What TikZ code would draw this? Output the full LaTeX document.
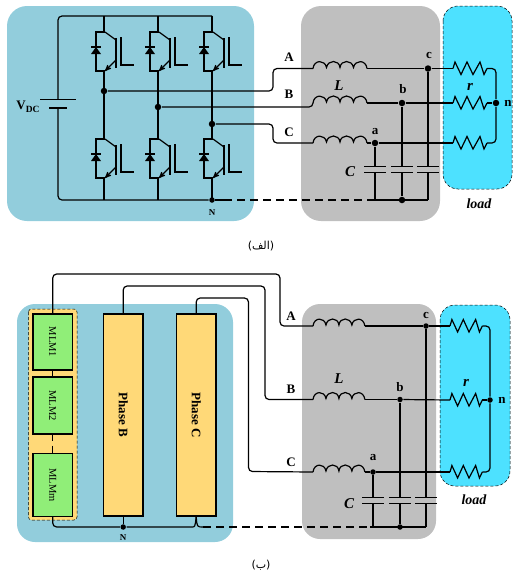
\documentclass[tikz,border=0pt]{standalone}
\usepackage{fontspec}
\setmainfont{Liberation Serif}
\newfontfamily\arabicfont[Script=Arabic]{DejaVu Sans}
\TeXXeTstate=1
\usepackage{xcolor}
\usetikzlibrary{arrows}
\usetikzlibrary{calc}
\definecolor{invblue}{HTML}{92CDDC}
\definecolor{filtgray}{HTML}{BFBFBF}
\definecolor{loadcyan}{HTML}{4DE1FF}
\definecolor{phaseyel}{HTML}{FFD978}
\definecolor{mlmgreen}{HTML}{90EE78}
\tikzset{
  igbt/.pic={
    \draw (1,0) -- (-8,0) -- (-8,39) -- (1,39);
    \draw (1,0) -- (12,8);
    \draw (12,6) -- (12,36);
    \draw (17,5) -- (17,33) -- (30,33);
    \draw[->] (12,28) -- (1,39);
    \draw (-13,15) -- (-3,15);
    \fill (-8,15) -- (-13,22) -- (-3,22) -- cycle;
  },
  coil/.pic={
    \draw (0,0) .. controls (1,-9) and (12,-9) .. (13.5,-1) .. controls (15,-9) and (26,-9) .. (27,-1)
       .. controls (28,-9) and (39,-9) .. (40.5,-1) .. controls (42,-9) and (53,-9) .. (54,0);
    \coordinate (-in) at (0,0);
    \coordinate (-out) at (54,0);
  },
  res/.pic={
    \draw (0,0) -- (2,-6.5) -- (8,6) -- (14,-6.5) -- (20,6) -- (27,-6.5) -- (31,6) -- (34,0);
    \coordinate (-in) at (0,0);
    \coordinate (-out) at (34,0);
  },
  capa/.pic={
    \draw (-11,-3) -- (11,-3);
    \draw (-11,3) -- (11,3);
    \coordinate (-in) at (0,-3);
    \coordinate (-out) at (0,3);
  }
}
\begin{document}
\begin{tikzpicture}[x=1pt,y=-1pt,line width=1.2pt,>=stealth',font=\bfseries\fontsize{13}{13}\selectfont]
  \tikzstyle{wire}=[rounded corners=4pt]
  \tikzstyle{dot}=[fill, circle, inner sep=0pt, minimum size=6.5pt]
  \tikzstyle{smalldot}=[fill, circle, inner sep=0pt, minimum size=5.5pt]
  \tikzstyle{dashwire}=[dash pattern=on 8pt off 5pt]
  \tikzstyle{lab}=[inner sep=0pt]
  \tikzstyle{phase}=[draw, fill=phaseyel, rotate=-90, minimum width=202pt, minimum height=39.5pt, inner sep=0pt]
  \tikzstyle{mlm}=[draw, fill=mlmgreen, rotate=-90, minimum height=39.5pt, inner sep=0pt, font=\normalfont\fontsize{10.5}{10.5}\selectfont]
  \useasboundingbox (0,0) rectangle (512,579);

  % upper panels
  \fill[invblue, rounded corners=20pt] (7,6) rectangle (254,221);
  \fill[filtgray, rounded corners=20pt] (301,6) rectangle (440,221);
  \draw[fill=loadcyan, densely dashed, line width=.5pt, rounded corners=15pt] (443,6) rectangle (512,189);

  % bridge
  \foreach \col/\xx in {a/104,b/158,c/212} {
    \pic at (\xx,32) {igbt};
    \pic at (\xx,139) {igbt};
    \coordinate (T\col) at (\xx,16);
    \coordinate (B\col) at (\xx,200);
    \draw (T\col) -- (\xx,32);
    \draw (\xx,71) -- (\xx,139);
    \draw (\xx,178) -- (B\col);
  }
  \node[dot] (Ja) at (104,91) {};
  \node[dot] (Jb) at (158,107) {};
  \node[dot] (Jc) at (212,124) {};
  \node[smalldot] (N1) at (212,200) {};
  \node[lab, font=\bfseries\fontsize{9}{9}\selectfont] (Nlab1) at (212,213) {N};

  % source
  \coordinate (Vp) at (58,99.5);
  \coordinate (Vm) at (58,108);
  \draw (40,99.5) -- (76,99.5);
  \draw (49,108) -- (67,108);
  \draw[wire] (Vp) |- (Tc);
  \draw[wire] (Vm) |- (N1);
  \node[lab] (Vdc) at (28,107) {V\raisebox{-3pt}{\fontsize{9.5}{9.5}\selectfont DC}};

  % filter and load
  \pic (LA) at (313,68.5) {coil};
  \pic (LB) at (313,103) {coil};
  \pic (LC) at (313,143) {coil};
  \pic (RA) at (453,68.5) {res};
  \pic (RB) at (453,103) {res};
  \pic (RC) at (453,143) {res};
  \pic (Ca) at (375,169.5) {capa};
  \pic (Cb) at (402,169.5) {capa};
  \pic (Cc) at (428,169.5) {capa};
  \node[dot] (Fa) at (375,143) {};
  \node[dot] (Fb) at (402,103) {};
  \node[dot] (Fc) at (428,68.5) {};
  \node[dot] (Fn) at (496,103) {};
  \node[dot] (Gn) at (402,200) {};
  \coordinate (Gl) at (372,200);
  \coordinate (Gr) at (428,200);
  \draw[wire] (Ja) -- (273,91) -- (273,68.5) -- (LA-in);
  \draw[wire] (Jb) -- (313,107) -- (LB-in);
  \draw[wire] (Jc) -- (273,124) -- (273,143) -- (LC-in);
  \path
    (LA-out) edge (Fc)
    (LB-out) edge (Fb)
    (LC-out) edge (Fa)
    (Fc) edge (RA-in)
    (Fb) edge (RB-in)
    (Fa) edge (RC-in)
    (Fa) edge (Ca-in)
    (Fb) edge (Cb-in)
    (Fc) edge (Cc-in)
    (Ca-out) edge (375,200)
    (Cb-out) edge (Gn)
    (Cc-out) edge (Gr)
    (Gl) edge (Gr)
    (RB-out) edge (Fn);
  \draw[wire] (RA-out) -| (Fn);
  \draw[wire] (RC-out) -| (Fn);
  \draw (N1) -- (224,200);
  \draw[dashwire] (224,200) -- (Gl);
  \node[lab] at (289,57) {A};
  \node[lab] at (289,94) {B};
  \node[lab] at (289,132) {C};
  \node[lab] at (429,55) {c};
  \node[lab] at (403,89) {b};
  \node[lab] at (375,132) {a};
  \node[lab] at (508,103) {n};
  \node[lab, font=\bfseries\itshape\fontsize{15}{15}\selectfont] at (339,86) {L};
  \node[lab, font=\bfseries\itshape\fontsize{15}{15}\selectfont] at (350,172) {C};
  \node[lab, font=\bfseries\itshape\fontsize{15}{15}\selectfont] at (470,87) {r};
  \node[lab, font=\bfseries\itshape\fontsize{14}{14}\selectfont] at (479,204) {load};
  \node[lab, font=\arabicfont\fontsize{11}{11}\selectfont] at (261,246) {\beginR(الف)\endR};

  % lower panels
  \fill[invblue, rounded corners=18pt] (17,304) rectangle (233,542);
  \fill[filtgray, rounded corners=18pt] (302,304) rectangle (436,539);
  \draw[fill=loadcyan, densely dashed, line width=.5pt, rounded corners=15pt] (440,305) rectangle (510,486);
  \draw[fill=phaseyel, densely dashed, line width=.5pt, rounded corners=3pt] (28.5,309) rectangle (77,520);

  % phase legs
  \node[mlm, minimum width=56pt] (M1) at (52.7,342) {MLM1};
  \node[mlm, minimum width=57pt] (M2) at (52.7,405.5) {MLM2};
  \node[mlm, minimum width=62.5pt] (Mm) at (52.7,485) {MLMm};
  \node[phase] (PB) at (123.2,415) {Phase B};
  \node[phase] (PC) at (196.2,415) {Phase C};
  \draw (M1.east) -- (M2.west);
  \draw[dash pattern=on 6pt off 5pt on 8pt] (M2.east) -- (Mm.west);

  % lower filter and load
  \pic[xscale=.96] (LA2) at (313,326) {coil};
  \pic[xscale=.96] (LB2) at (313,399.5) {coil};
  \pic[xscale=.96] (LC2) at (313,472) {coil};
  \pic[xscale=.95] (RA2) at (450,326) {res};
  \pic[xscale=.95] (RB2) at (450,400) {res};
  \pic[xscale=.95] (RC2) at (450,472) {res};
  \pic (Ca2) at (373,500.5) {capa};
  \pic (Cb2) at (400,500.5) {capa};
  \pic (Cc2) at (426,500.5) {capa};
  \node[smalldot] (Fa2) at (373,472) {};
  \node[smalldot] (Fb2) at (400,399.5) {};
  \node[smalldot] (Fc2) at (426,326) {};
  \node[smalldot] (Fn2) at (490,400) {};
  \node[smalldot] (Gn2) at (400,527) {};
  \node[smalldot] (N2) at (123.2,527) {};
  \coordinate (Gl2) at (370,527);
  \coordinate (Gr2) at (426,527);
  \draw[wire] (M1.west) -- (52.7,274) -- (280,274) -- (280,326) -- (LA2-in);
  \draw[wire] (PB.west) -- (123.2,286) -- (265,286) -- (265,399.5) -- (LB2-in);
  \draw[wire] (PC.west) -- (196.2,298) -- (248.5,298) -- (248.5,471.5) -- (LC2-in);
  \path
    (LA2-out) edge (Fc2)
    (LB2-out) edge (Fb2)
    (LC2-out) edge (Fa2)
    (Fc2) edge (RA2-in)
    (Fb2) edge (RB2-in)
    (Fa2) edge (RC2-in)
    (Fa2) edge (Ca2-in)
    (Fb2) edge (Cb2-in)
    (Fc2) edge (Cc2-in)
    (Ca2-out) edge (373,527)
    (Cb2-out) edge (Gn2)
    (Cc2-out) edge (Gr2)
    (Gl2) edge (Gr2)
    (RB2-out) edge (Fn2)
    (PB.east) edge (N2);
  \draw[wire] (RA2-out) -| (Fn2);
  \draw[wire] (RC2-out) -| (Fn2);
  \draw[wire] (Mm.east) |- (N2);
  \draw (N2) -- (192,527) .. controls (195,527) .. (PC.east);
  \draw (PC.east) .. controls (197,527) .. (203,527);
  \draw[dashwire] (203,527) -- (Gl2);
  \node[lab] at (291,316) {A};
  \node[lab] at (291,389) {B};
  \node[lab] at (291,462) {C};
  \node[lab] at (426,315) {c};
  \node[lab] at (400,387) {b};
  \node[lab] at (373,458) {a};
  \node[lab] at (502,400) {n};
  \node[lab, font=\bfseries\fontsize{9}{9}\selectfont] at (123,538) {N};
  \node[lab, font=\bfseries\itshape\fontsize{15}{15}\selectfont] at (339,379) {L};
  \node[lab, font=\bfseries\itshape\fontsize{15}{15}\selectfont] at (349,504) {C};
  \node[lab, font=\bfseries\itshape\fontsize{15}{15}\selectfont] at (466,383) {r};
  \node[lab, font=\bfseries\itshape\fontsize{14}{14}\selectfont] at (474,500) {load};
  \node[lab, font=\arabicfont\fontsize{11}{11}\selectfont] at (261,565) {\beginR(ب)\endR};
\end{tikzpicture}
\end{document}
